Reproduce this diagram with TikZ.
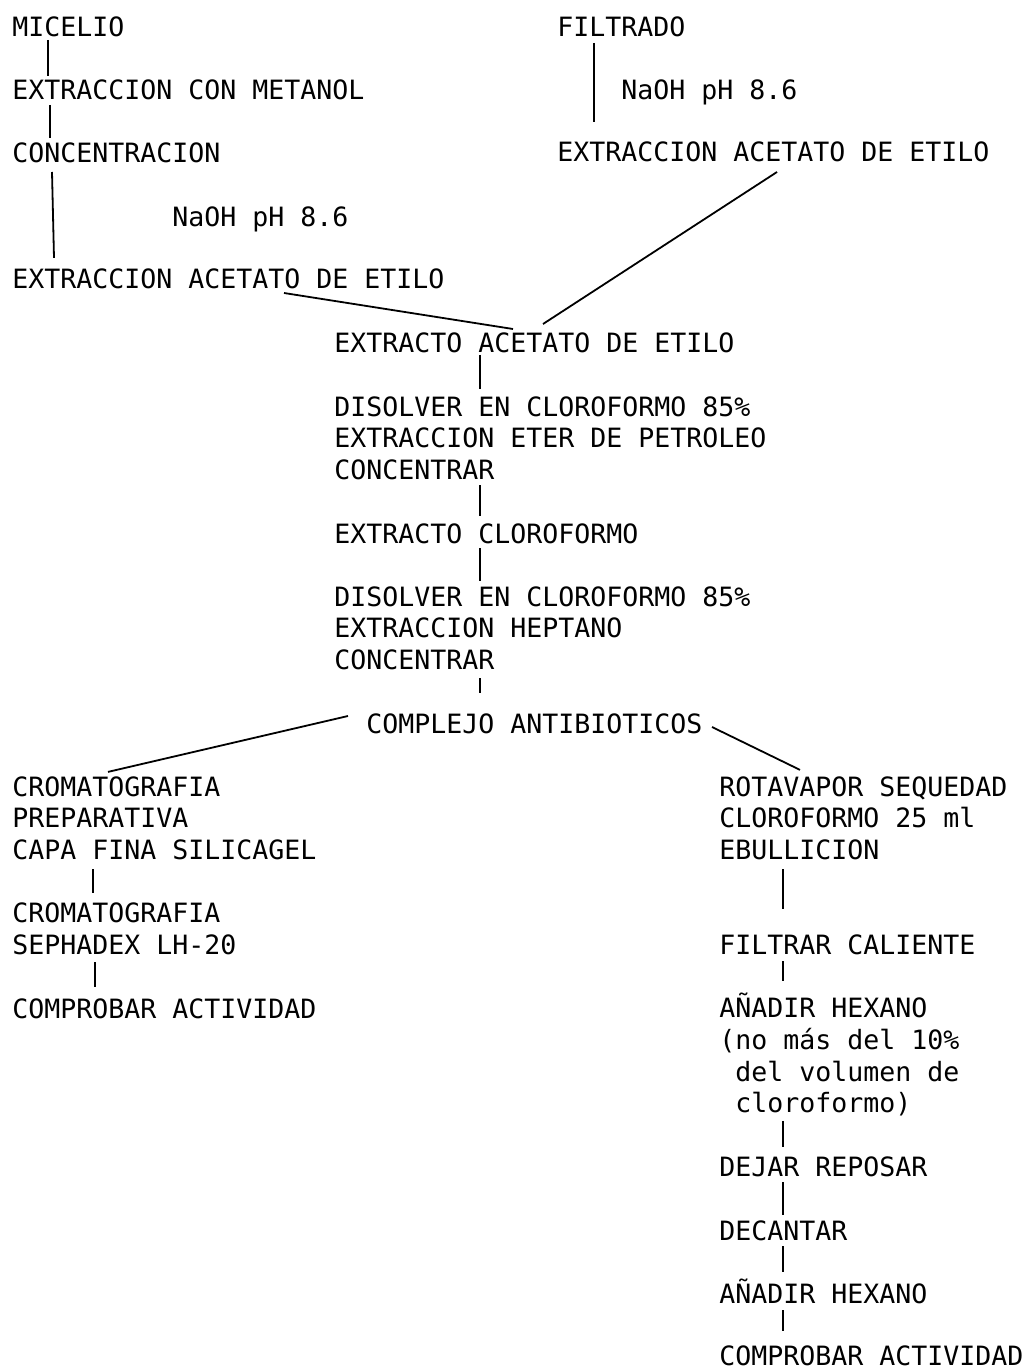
\documentclass[tikz,border=0pt]{standalone}
\usepackage{fontspec}
\newfontfamily\flowfont{DejaVu Sans Mono}
\usetikzlibrary{calc}

\tikzset{
    txt/.style={anchor=base west, inner sep=0pt, align=left,
        font=\flowfont\fontsize{13.29}{15.82}\selectfont},
    link/.style={line width=0.9pt}
}

\begin{document}
\begin{tikzpicture}[x=0.5pt,y=-0.5pt]
        \useasboundingbox (0,0) rectangle (1029,1369);

        % multi-line nodes sit on the baseline of their last line
        \node[txt] (micelio) at (12,37) {MICELIO};
        \node[txt] (metanol) at (12,100) {EXTRACCION CON METANOL};
        \node[txt] (concentracion) at (12,163) {CONCENTRACION};
        \node[txt] (naohLeft) at (172,227) {NaOH pH 8.6};
        \node[txt] (acetatoLeft) at (12,289) {EXTRACCION ACETATO DE ETILO};

        \node[txt] (filtrado) at (557,37) {FILTRADO};
        \node[txt] (naohRight) at (621,100) {NaOH pH 8.6};
        \node[txt] (acetatoRight) at (557,162) {EXTRACCION ACETATO DE ETILO};

        \node[txt] (extracto) at (334,352) {EXTRACTO ACETATO DE ETILO};
        \node[txt] (disolverA) at (334,479.3) {
            DISOLVER EN CLOROFORMO 85\%\\
            EXTRACCION ETER DE PETROLEO\\
            CONCENTRAR
        };
        \node[txt] (cloroformo) at (334,543) {EXTRACTO CLOROFORMO};
        \node[txt] (disolverB) at (334,669.3) {
            DISOLVER EN CLOROFORMO 85\%\\
            EXTRACCION HEPTANO\\
            CONCENTRAR
        };
        \node[txt] (complejo) at (366,733) {COMPLEJO ANTIBIOTICOS};

        \node[txt] (cromaA) at (12,859.3) {
            CROMATOGRAFIA\\
            PREPARATIVA\\
            CAPA FINA SILICAGEL
        };
        \node[txt] (cromaB) at (12,954.6) {CROMATOGRAFIA\\SEPHADEX LH-20};
        \node[txt] (actividadLeft) at (12,1018) {COMPROBAR ACTIVIDAD};

        \node[txt] (rotavapor) at (719,859.3) {
            ROTAVAPOR SEQUEDAD\\
            CLOROFORMO 25 ml\\
            EBULLICION
        };
        \node[txt] (filtrar) at (719,954) {FILTRAR CALIENTE};
        \node[txt] (hexanoA) at (719,1112.9) {
            AÑADIR HEXANO\\
            (no más del 10\%\\
            \hspace*{8pt}del volumen de\\
            \hspace*{8pt}cloroformo)
        };
        \node[txt] (reposar) at (719,1176) {DEJAR REPOSAR};
        \node[txt] (decantar) at (719,1240) {DECANTAR};
        \node[txt] (hexanoB) at (719,1303) {AÑADIR HEXANO};
        \node[txt] (actividadRight) at (719,1365) {COMPROBAR ACTIVIDAD};

        \draw[link] ($(micelio.base west)+(36,3)$) -- ($(metanol.north west)+(36,-4)$);
        \draw[link] ($(metanol.base west)+(38,5)$) -- ($(concentracion.north west)+(38,-5)$);
        \draw[link] ($(concentracion.base west)+(40,9)$) -- ($(acetatoLeft.north west)+(42,-11)$);
        \draw[link] ($(filtrado.base west)+(37,6)$) -- ($(acetatoRight.north west)+(37,-20)$);

        \draw[link] ($(acetatoLeft.base west)+(272,4)$) -- ($(extracto.base west)+(179,-23)$);
        \draw[link] ($(acetatoRight.base west)+(220,10)$) -- ($(extracto.base west)+(209,-28)$);

        \draw[link] ($(extracto.base west)+(146,3)$) -- ($(disolverA.north west)+(146,-7)$);
        \draw[link] ($(disolverA.south west)+(146,5)$) -- ($(cloroformo.north west)+(146,-7)$);
        \draw[link] ($(cloroformo.base west)+(146,5)$) -- ($(disolverB.north west)+(146,-5)$);
        \draw[link] ($(disolverB.south west)+(146,8)$) -- ($(complejo.north west)+(114,-20)$);

        \draw[link] ($(complejo.base west)+(-18,-17)$) -- ($(cromaA.north west)+(96,-4)$);
        \draw[link] ($(complejo.base west)+(346,-6)$) -- ($(rotavapor.north west)+(81,-6)$);

        \draw[link] ($(cromaA.south west)+(81,9)$) -- ($(cromaB.north west)+(81,-10)$);
        \draw[link] ($(cromaB.south west)+(83,7)$) -- ($(actividadLeft.north west)+(83,-11)$);

        \draw[link] ($(rotavapor.south west)+(64,9)$) -- ($(filtrar.north west)+(64,-25)$);
        \draw[link] ($(filtrar.base west)+(64,7)$) -- ($(hexanoA.north west)+(64,-12)$);
        \draw[link] ($(hexanoA.south west)+(64,4)$) -- ($(reposar.north west)+(64,-9)$);
        \draw[link] ($(reposar.base west)+(64,6)$) -- ($(decantar.north west)+(64,-5)$);
        \draw[link] ($(decantar.base west)+(64,6)$) -- ($(hexanoB.north west)+(64,-6)$);
        \draw[link] ($(hexanoB.base west)+(64,7)$) -- ($(actividadRight.north west)+(64,-14)$);
    \end{tikzpicture}
\end{document}
